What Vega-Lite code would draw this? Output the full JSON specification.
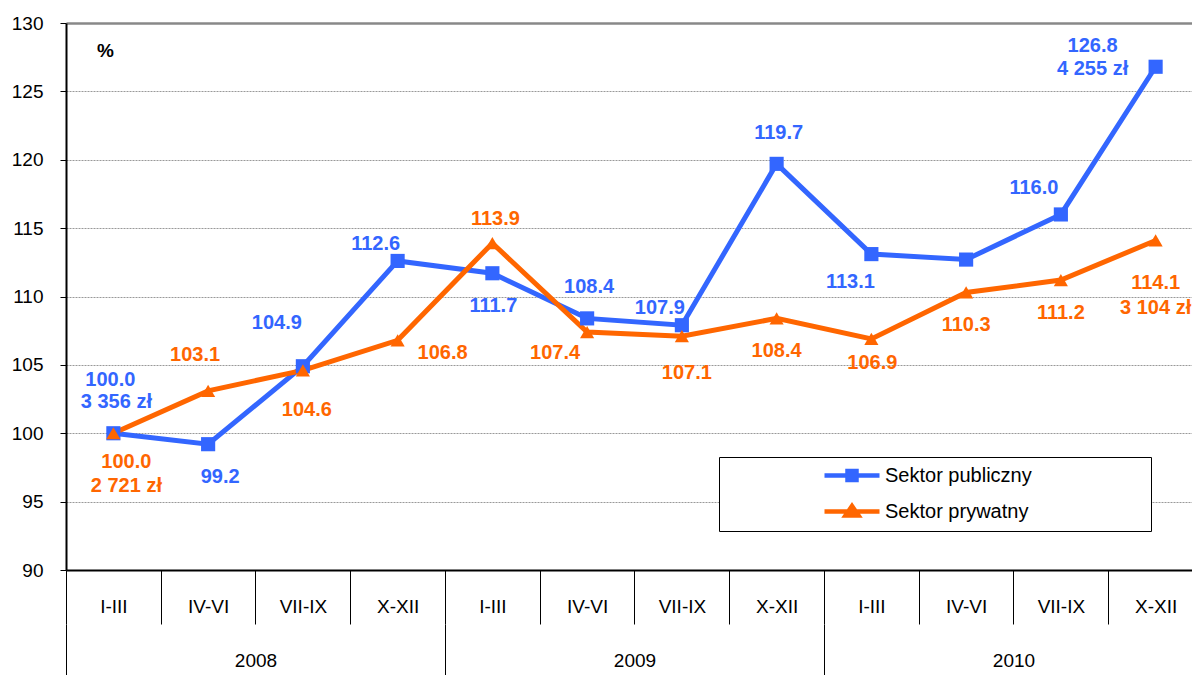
{
  "$schema": "https://vega.github.io/schema/vega-lite/v6.json",
  "width": 1126,
  "height": 547,
  "autosize": {"type": "none"},
  "padding": {"left": 66, "top": 23, "right": 0, "bottom": 105},
  "background": "white",
  "config": {"font": "Liberation Sans", "view": {"stroke": null}},
  "data": {"values": [
    {"idx": 0, "year": "2008", "quarter": "I-III", "series": "Sektor publiczny", "value": 100.0, "amount": "3 356 zł"},
    {"idx": 1, "year": "2008", "quarter": "IV-VI", "series": "Sektor publiczny", "value": 99.2},
    {"idx": 2, "year": "2008", "quarter": "VII-IX", "series": "Sektor publiczny", "value": 104.9},
    {"idx": 3, "year": "2008", "quarter": "X-XII", "series": "Sektor publiczny", "value": 112.6},
    {"idx": 4, "year": "2009", "quarter": "I-III", "series": "Sektor publiczny", "value": 111.7},
    {"idx": 5, "year": "2009", "quarter": "IV-VI", "series": "Sektor publiczny", "value": 108.4},
    {"idx": 6, "year": "2009", "quarter": "VII-IX", "series": "Sektor publiczny", "value": 107.9},
    {"idx": 7, "year": "2009", "quarter": "X-XII", "series": "Sektor publiczny", "value": 119.7},
    {"idx": 8, "year": "2010", "quarter": "I-III", "series": "Sektor publiczny", "value": 113.1},
    {"idx": 9, "year": "2010", "quarter": "IV-VI", "series": "Sektor publiczny", "value": 112.7},
    {"idx": 10, "year": "2010", "quarter": "VII-IX", "series": "Sektor publiczny", "value": 116.0},
    {"idx": 11, "year": "2010", "quarter": "X-XII", "series": "Sektor publiczny", "value": 126.8, "amount": "4 255 zł"},
    {"idx": 0, "year": "2008", "quarter": "I-III", "series": "Sektor prywatny", "value": 100.0, "amount": "2 721 zł"},
    {"idx": 1, "year": "2008", "quarter": "IV-VI", "series": "Sektor prywatny", "value": 103.1},
    {"idx": 2, "year": "2008", "quarter": "VII-IX", "series": "Sektor prywatny", "value": 104.6},
    {"idx": 3, "year": "2008", "quarter": "X-XII", "series": "Sektor prywatny", "value": 106.8},
    {"idx": 4, "year": "2009", "quarter": "I-III", "series": "Sektor prywatny", "value": 113.9},
    {"idx": 5, "year": "2009", "quarter": "IV-VI", "series": "Sektor prywatny", "value": 107.4},
    {"idx": 6, "year": "2009", "quarter": "VII-IX", "series": "Sektor prywatny", "value": 107.1},
    {"idx": 7, "year": "2009", "quarter": "X-XII", "series": "Sektor prywatny", "value": 108.4},
    {"idx": 8, "year": "2010", "quarter": "I-III", "series": "Sektor prywatny", "value": 106.9},
    {"idx": 9, "year": "2010", "quarter": "IV-VI", "series": "Sektor prywatny", "value": 110.3},
    {"idx": 10, "year": "2010", "quarter": "VII-IX", "series": "Sektor prywatny", "value": 111.2},
    {"idx": 11, "year": "2010", "quarter": "X-XII", "series": "Sektor prywatny", "value": 114.1, "amount": "3 104 zł"}
  ]},
  "encoding": {
    "x": {"field": "idx", "type": "quantitative", "scale": {"domain": [-0.5, 11.384], "nice": false, "zero": false}, "axis": null},
    "y": {"field": "value", "type": "quantitative", "scale": {"domain": [90, 130], "nice": false, "zero": false},
      "axis": {
        "values": [90, 95, 100, 105, 110, 115, 120, 125, 130],
        "title": "%", "titleAngle": 0, "titleX": 39, "titleY": 27, "titleAlign": "center", "titleBaseline": "middle",
        "titleFontSize": 19, "titleFontWeight": "bold", "titleColor": "black", "titleFont": "Liberation Sans",
        "labelFontSize": 19, "labelColor": "black", "labelPadding": 17, "labelFont": "Liberation Sans",
        "tickSize": 6, "tickColor": "black", "tickWidth": 1,
        "domainColor": "black", "domainWidth": 2,
        "grid": true,
        "gridColor": {"condition": {"test": "datum.value === 130", "value": "#888888"}, "value": "#999999"},
        "gridDash": {"condition": {"test": "datum.value === 130", "value": []}, "value": [2, 1]},
        "gridWidth": {"condition": {"test": "datum.value === 130", "value": 2.5}, "value": 1},
        "labelFlush": false
      }
    }
  },
  "layer": [
    {
      "mark": {"type": "line", "strokeWidth": 5},
      "encoding": {
        "x": {"field": "idx", "type": "quantitative", "scale": {"domain": [-0.5, 11.384], "nice": false, "zero": false},
          "axis": {
            "orient": "bottom", "title": null, "grid": false,
            "values": [-0.5, 0.5, 1.5, 2.5, 3.5, 4.5, 5.5, 6.5, 7.5, 8.5, 9.5, 10.5],
            "labelExpr": "['I-III','IV-VI','VII-IX','X-XII'][(datum.value + 0.5) % 4]",
            "labelOffset": 47.4, "labelPadding": -17.5, "labelBaseline": "middle", "labelAlign": "center",
            "labelFontSize": 19, "labelColor": "black", "labelFont": "Liberation Sans",
            "labelFlush": false, "labelOverlap": false, "labelBound": false,
            "tickSize": 54, "tickColor": "black", "tickWidth": 1,
            "domainColor": "black", "domainWidth": 2
          }
        },
        "color": {"field": "series", "type": "nominal",
          "scale": {"domain": ["Sektor publiczny", "Sektor prywatny"], "range": ["#3366FF", "#FF6600"]},
          "legend": {
            "title": null, "orient": "none", "legendX": 653, "legendY": 434,
            "padding": 6, "rowPadding": 8, "symbolSize": 400, "labelOffset": 135,
            "labelFontSize": 20, "labelFont": "Liberation Sans", "labelColor": "black",
            "strokeColor": "black", "fillColor": "white", "symbolStrokeWidth": 4.5,
            "encode": {"symbols": {"update": {
              "shape": {"signal": "datum.value === 'Sektor publiczny' ? 'M8.7,0H14.2M11.0,-0.45H11.9V0.45H11.0ZM39.8,0' : 'M8.7,0H14.2M11.45,-0.55L12.1,0.4H10.8ZM39.8,0'"},
              "fill": {"signal": "datum.value === 'Sektor publiczny' ? '#3366FF' : '#FF6600'"},
              "stroke": {"signal": "datum.value === 'Sektor publiczny' ? '#3366FF' : '#FF6600'"},
              "strokeWidth": {"value": 4.5},
              "opacity": {"value": 1}
            }}}
          }
        }
      }
    },
    {
      "transform": [{"filter": "datum.series === 'Sektor publiczny'"}],
      "mark": {"type": "point", "filled": true, "opacity": 1, "size": 200, "shape": "square", "color": "#3366FF"}
    },
    {
      "transform": [{"filter": "datum.series === 'Sektor prywatny'"}],
      "mark": {"type": "point", "filled": true, "opacity": 1, "size": 200, "shape": "triangle-up", "color": "#FF6600"}
    },
    {
      "mark": {"type": "point", "opacity": 0},
      "encoding": {
        "x": {"field": "idx", "type": "quantitative", "scale": {"domain": [-0.5, 11.384], "nice": false, "zero": false},
          "axis": {
            "orient": "bottom", "offset": 54, "title": null, "grid": false, "domain": false,
            "values": [-0.5, 3.5, 7.5],
            "labelExpr": "['2008','2009','2010'][(datum.value + 0.5) / 4]",
            "labelOffset": 189.5, "labelPadding": -15, "labelBaseline": "middle", "labelAlign": "center",
            "labelFontSize": 19, "labelColor": "black", "labelFont": "Liberation Sans",
            "labelFlush": false, "labelOverlap": false, "labelBound": false,
            "tickSize": 51, "tickColor": "black", "tickWidth": 1
          }
        }
      }
    },
    {"transform": [{"filter": "datum.series === 'Sektor publiczny' && indexof([0], datum.idx) >= 0"}],
     "mark": {"type": "text", "dx": -3, "dy": -53, "fontSize": 20, "fontWeight": "bold", "fill": "#3366FF", "baseline": "middle", "align": "center"},
     "encoding": {"text": {"field": "value", "type": "quantitative", "format": ".1f"}}},
    {"transform": [{"filter": "datum.series === 'Sektor publiczny' && indexof([0], datum.idx) >= 0"}],
     "mark": {"type": "text", "dx": 3, "dy": -31, "fontSize": 20, "fontWeight": "bold", "fill": "#3366FF", "baseline": "middle", "align": "center"},
     "encoding": {"text": {"field": "amount", "type": "nominal"}}},
    {"transform": [{"filter": "datum.series === 'Sektor publiczny' && indexof([1], datum.idx) >= 0"}],
     "mark": {"type": "text", "dx": 12, "dy": 33, "fontSize": 20, "fontWeight": "bold", "fill": "#3366FF", "baseline": "middle", "align": "center"},
     "encoding": {"text": {"field": "value", "type": "quantitative", "format": ".1f"}}},
    {"transform": [{"filter": "datum.series === 'Sektor publiczny' && indexof([2], datum.idx) >= 0"}],
     "mark": {"type": "text", "dx": -26, "dy": -43, "fontSize": 20, "fontWeight": "bold", "fill": "#3366FF", "baseline": "middle", "align": "center"},
     "encoding": {"text": {"field": "value", "type": "quantitative", "format": ".1f"}}},
    {"transform": [{"filter": "datum.series === 'Sektor publiczny' && indexof([3, 6], datum.idx) >= 0"}],
     "mark": {"type": "text", "dx": -22, "dy": -17, "fontSize": 20, "fontWeight": "bold", "fill": "#3366FF", "baseline": "middle", "align": "center"},
     "encoding": {"text": {"field": "value", "type": "quantitative", "format": ".1f"}}},
    {"transform": [{"filter": "datum.series === 'Sektor publiczny' && indexof([4], datum.idx) >= 0"}],
     "mark": {"type": "text", "dx": 1, "dy": 33, "fontSize": 20, "fontWeight": "bold", "fill": "#3366FF", "baseline": "middle", "align": "center"},
     "encoding": {"text": {"field": "value", "type": "quantitative", "format": ".1f"}}},
    {"transform": [{"filter": "datum.series === 'Sektor publiczny' && indexof([5, 7], datum.idx) >= 0"}],
     "mark": {"type": "text", "dx": 2, "dy": -31, "fontSize": 20, "fontWeight": "bold", "fill": "#3366FF", "baseline": "middle", "align": "center"},
     "encoding": {"text": {"field": "value", "type": "quantitative", "format": ".1f"}}},
    {"transform": [{"filter": "datum.series === 'Sektor publiczny' && indexof([8], datum.idx) >= 0"}],
     "mark": {"type": "text", "dx": -21, "dy": 28, "fontSize": 20, "fontWeight": "bold", "fill": "#3366FF", "baseline": "middle", "align": "center"},
     "encoding": {"text": {"field": "value", "type": "quantitative", "format": ".1f"}}},
    {"transform": [{"filter": "datum.series === 'Sektor publiczny' && indexof([10], datum.idx) >= 0"}],
     "mark": {"type": "text", "dx": -27, "dy": -26, "fontSize": 20, "fontWeight": "bold", "fill": "#3366FF", "baseline": "middle", "align": "center"},
     "encoding": {"text": {"field": "value", "type": "quantitative", "format": ".1f"}}},
    {"transform": [{"filter": "datum.series === 'Sektor publiczny' && indexof([11], datum.idx) >= 0"}],
     "mark": {"type": "text", "dx": -63, "dy": -21, "fontSize": 20, "fontWeight": "bold", "fill": "#3366FF", "baseline": "middle", "align": "center"},
     "encoding": {"text": {"field": "value", "type": "quantitative", "format": ".1f"}}},
    {"transform": [{"filter": "datum.series === 'Sektor publiczny' && indexof([11], datum.idx) >= 0"}],
     "mark": {"type": "text", "dx": -63, "dy": 2, "fontSize": 20, "fontWeight": "bold", "fill": "#3366FF", "baseline": "middle", "align": "center"},
     "encoding": {"text": {"field": "amount", "type": "nominal"}}},
    {"transform": [{"filter": "datum.series === 'Sektor prywatny' && indexof([0], datum.idx) >= 0"}],
     "mark": {"type": "text", "dx": 13, "dy": 29, "fontSize": 20, "fontWeight": "bold", "fill": "#FF6600", "baseline": "middle", "align": "center"},
     "encoding": {"text": {"field": "value", "type": "quantitative", "format": ".1f"}}},
    {"transform": [{"filter": "datum.series === 'Sektor prywatny' && indexof([0], datum.idx) >= 0"}],
     "mark": {"type": "text", "dx": 13, "dy": 53, "fontSize": 20, "fontWeight": "bold", "fill": "#FF6600", "baseline": "middle", "align": "center"},
     "encoding": {"text": {"field": "amount", "type": "nominal"}}},
    {"transform": [{"filter": "datum.series === 'Sektor prywatny' && indexof([1], datum.idx) >= 0"}],
     "mark": {"type": "text", "dx": -13, "dy": -36, "fontSize": 20, "fontWeight": "bold", "fill": "#FF6600", "baseline": "middle", "align": "center"},
     "encoding": {"text": {"field": "value", "type": "quantitative", "format": ".1f"}}},
    {"transform": [{"filter": "datum.series === 'Sektor prywatny' && indexof([2], datum.idx) >= 0"}],
     "mark": {"type": "text", "dx": 4, "dy": 40, "fontSize": 20, "fontWeight": "bold", "fill": "#FF6600", "baseline": "middle", "align": "center"},
     "encoding": {"text": {"field": "value", "type": "quantitative", "format": ".1f"}}},
    {"transform": [{"filter": "datum.series === 'Sektor prywatny' && indexof([3], datum.idx) >= 0"}],
     "mark": {"type": "text", "dx": 45, "dy": 13, "fontSize": 20, "fontWeight": "bold", "fill": "#FF6600", "baseline": "middle", "align": "center"},
     "encoding": {"text": {"field": "value", "type": "quantitative", "format": ".1f"}}},
    {"transform": [{"filter": "datum.series === 'Sektor prywatny' && indexof([4], datum.idx) >= 0"}],
     "mark": {"type": "text", "dx": 3, "dy": -24, "fontSize": 20, "fontWeight": "bold", "fill": "#FF6600", "baseline": "middle", "align": "center"},
     "encoding": {"text": {"field": "value", "type": "quantitative", "format": ".1f"}}},
    {"transform": [{"filter": "datum.series === 'Sektor prywatny' && indexof([5], datum.idx) >= 0"}],
     "mark": {"type": "text", "dx": -32, "dy": 21, "fontSize": 20, "fontWeight": "bold", "fill": "#FF6600", "baseline": "middle", "align": "center"},
     "encoding": {"text": {"field": "value", "type": "quantitative", "format": ".1f"}}},
    {"transform": [{"filter": "datum.series === 'Sektor prywatny' && indexof([6], datum.idx) >= 0"}],
     "mark": {"type": "text", "dx": 5, "dy": 37, "fontSize": 20, "fontWeight": "bold", "fill": "#FF6600", "baseline": "middle", "align": "center"},
     "encoding": {"text": {"field": "value", "type": "quantitative", "format": ".1f"}}},
    {"transform": [{"filter": "datum.series === 'Sektor prywatny' && indexof([7, 9, 10], datum.idx) >= 0"}],
     "mark": {"type": "text", "dx": 0, "dy": 33, "fontSize": 20, "fontWeight": "bold", "fill": "#FF6600", "baseline": "middle", "align": "center"},
     "encoding": {"text": {"field": "value", "type": "quantitative", "format": ".1f"}}},
    {"transform": [{"filter": "datum.series === 'Sektor prywatny' && indexof([8], datum.idx) >= 0"}],
     "mark": {"type": "text", "dx": 1, "dy": 24, "fontSize": 20, "fontWeight": "bold", "fill": "#FF6600", "baseline": "middle", "align": "center"},
     "encoding": {"text": {"field": "value", "type": "quantitative", "format": ".1f"}}},
    {"transform": [{"filter": "datum.series === 'Sektor prywatny' && indexof([11], datum.idx) >= 0"}],
     "mark": {"type": "text", "dx": 0, "dy": 43, "fontSize": 20, "fontWeight": "bold", "fill": "#FF6600", "baseline": "middle", "align": "center"},
     "encoding": {"text": {"field": "value", "type": "quantitative", "format": ".1f"}}},
    {"transform": [{"filter": "datum.series === 'Sektor prywatny' && indexof([11], datum.idx) >= 0"}],
     "mark": {"type": "text", "dx": 0, "dy": 68, "fontSize": 20, "fontWeight": "bold", "fill": "#FF6600", "baseline": "middle", "align": "center"},
     "encoding": {"text": {"field": "amount", "type": "nominal"}}}
  ],
  "resolve": {"axis": {"x": "independent"}}
}
